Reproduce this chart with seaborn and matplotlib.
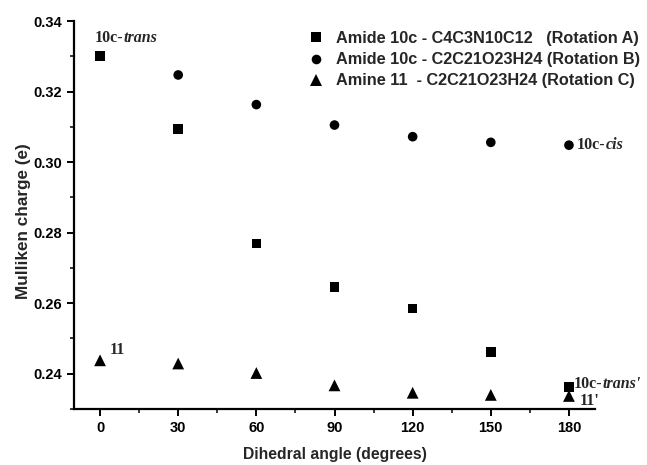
import numpy as np
import pandas as pd
import matplotlib
matplotlib.use('Agg')
import matplotlib.pyplot as plt
import seaborn as sns
from matplotlib.ticker import MultipleLocator

# --- data ---
angles = [0, 30, 60, 90, 120, 150, 180]
rot_a = [0.3300, 0.3094, 0.2769, 0.2646, 0.2585, 0.2462, 0.2363]
rot_b_angles = [30, 60, 90, 120, 150, 180]
rot_b = [0.3247, 0.3163, 0.3105, 0.3072, 0.3056, 0.3048]
rot_c = [0.2438, 0.2429, 0.2402, 0.2367, 0.2346, 0.2340, 0.2337]

label_a = 'Amide 10c - C4C3N10C12   (Rotation A)'
label_b = 'Amide 10c - C2C21O23H24 (Rotation B)'
label_c = 'Amine 11  - C2C21O23H24 (Rotation C)'

df = pd.concat([
    pd.DataFrame({'angle': angles, 'charge': rot_a, 'series': label_a}),
    pd.DataFrame({'angle': rot_b_angles, 'charge': rot_b, 'series': label_b}),
    pd.DataFrame({'angle': angles, 'charge': rot_c, 'series': label_c}),
], ignore_index=True)

sns.set_style('ticks')
plt.rcParams['font.family'] = ['Liberation Sans', 'DejaVu Sans']

fig = plt.figure(figsize=(6.47, 4.65), dpi=100)
ax = fig.add_axes([74 / 647, 1 - 409 / 465, 521 / 647, 388 / 465])

order = [label_a, label_b, label_c]
sns.scatterplot(data=df, x='angle', y='charge', hue='series', style='series',
                size='series', hue_order=order, style_order=order, size_order=order,
                palette=['black'] * 3,
                markers={label_a: 's', label_b: 'o', label_c: '^'},
                sizes={label_a: 48, label_b: 48, label_c: 72},
                linewidth=0, ax=ax)

ax.set_xlim(-10, 190)
ax.set_ylim(0.23, 0.34)
ax.xaxis.set_major_locator(MultipleLocator(30))
ax.xaxis.set_minor_locator(MultipleLocator(15))
ax.yaxis.set_major_locator(MultipleLocator(0.02))
ax.yaxis.set_minor_locator(MultipleLocator(0.01))
ax.yaxis.set_major_formatter(matplotlib.ticker.FormatStrFormatter('%.2f'))

for side in ['top', 'right']:
    ax.spines[side].set_visible(False)
for side in ['left', 'bottom']:
    ax.spines[side].set_linewidth(1.6)
    ax.spines[side].set_color('black')
ax.tick_params(which='major', direction='out', length=5, width=1.4, colors='black',
               labelsize=10.5)
ax.tick_params(which='minor', direction='out', length=3, width=1.1, colors='black')
for lbl in ax.get_xticklabels() + ax.get_yticklabels():
    lbl.set_fontweight('bold')

ax.set_xlabel('Dihedral angle (degrees)', fontsize=11.3, fontweight='bold', labelpad=9)
ax.set_ylabel('Mulliken charge (e)', fontsize=12.3, fontweight='bold')
ax.yaxis.set_label_coords(-0.082, 0.485)

leg = ax.legend(loc='upper left', bbox_to_anchor=(300 / 647, 1 - 23 / 465),
                bbox_transform=fig.transFigure, frameon=False,
                fontsize=11.7, handletextpad=0.7, labelspacing=0.38,
                borderpad=0, handlelength=1.0)
for t in leg.get_texts():
    t.set_fontweight('bold')

# --- point annotations in serif ---
serif = ['Liberation Serif', 'DejaVu Serif']


def tag(x, y, plain, italic=''):
    t1 = ax.text(x, y, plain, family=serif, fontweight='bold', fontsize=11.5,
                 va='center', ha='left')
    if italic:
        ax.annotate(italic, xy=(1, 0), xycoords=t1, va='bottom', ha='left',
                    family=serif, fontweight='bold', fontstyle='italic', fontsize=11.5)


tag(-2, 0.3352, '10c-', 'trans')
tag(183, 0.3048, '10c-', 'cis')
tag(3.8, 0.2466, '11')
tag(182, 0.2372, '10c-', "trans'")
tag(184, 0.2323, "11'")

fig.savefig('out.png', dpi=100)
